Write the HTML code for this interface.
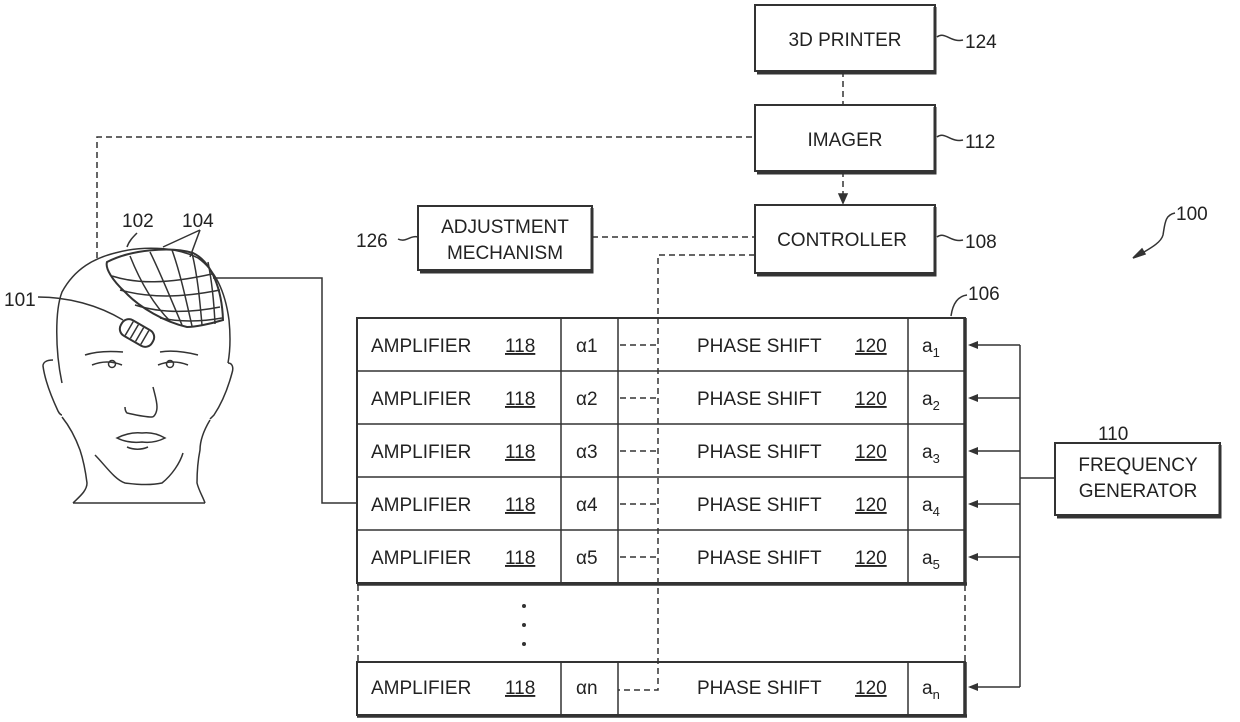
<!DOCTYPE html>
<html><head><meta charset="utf-8"><style>
body{margin:0;background:#fff;}
svg{display:block;}
text{font-family:"Liberation Sans",sans-serif;fill:#222;}
</style></head><body>
<svg width="1240" height="722" viewBox="0 0 1240 722" xmlns="http://www.w3.org/2000/svg">
<g fill="none" stroke="#333" stroke-width="1.5">
<rect x="755" y="5" width="180" height="66" stroke-width="2"/><path d="M935 7v66h-178" stroke-width="3"/>
<rect x="755" y="105" width="180" height="66" stroke-width="2"/><path d="M935 107v66h-178" stroke-width="3"/>
<rect x="755" y="205" width="180" height="68" stroke-width="2"/><path d="M935 207v68h-178" stroke-width="3"/>
<rect x="418" y="206" width="174" height="64" stroke-width="2"/><path d="M592 208v64h-172" stroke-width="3"/>
<rect x="1055" y="443" width="165" height="72" stroke-width="2"/><path d="M1220 445v72h-163" stroke-width="3"/>
<rect x="357" y="318" width="608" height="265" stroke-width="2"/>
<path d="M965 318v267M357 584h610" stroke-width="3.5"/>
<path d="M357 371h608M357 424h608M357 477h608M357 530h608"/>
<path d="M561 318v265M618 318v265M908 318v265"/>
<rect x="357" y="662" width="608" height="53" stroke-width="2"/>
<path d="M965 662v55M357 716h610" stroke-width="3.5"/>
<path d="M561 662v53M618 662v53M908 662v53"/>
<path d="M358 585v77M965 585v77" stroke-dasharray="6 4"/>
<g stroke-dasharray="6 4">
<path d="M843 71v34"/><path d="M843 171v26"/>
<path d="M97 258V137h658"/>
<path d="M592 237h163"/>
<path d="M755 255h-97v435h-40"/>
<path d="M620 345h38M620 398h38M620 451h38M620 504h38M620 557h38"/>
</g>
<path d="M839 194l4 9 4-9z" fill="#333"/>
<path d="M213 278h109v225h35"/>
<path d="M1020 345v342M1055 478h-35"/>
<path d="M1020 345h-50M1020 398h-50M1020 451h-50M1020 504h-50M1020 557h-50M1020 687h-50"/>
<g fill="#333" stroke="none">
<path d="M968 345l10-4v8z"/><path d="M968 398l10-4v8z"/><path d="M968 451l10-4v8z"/><path d="M968 504l10-4v8z"/><path d="M968 557l10-4v8z"/><path d="M968 687l10-4v8z"/>
</g>
<path d="M937 37c8-6 14 6 26 3"/><path d="M937 137c8-6 14 6 26 3"/><path d="M937 237c8-6 14 6 26 3"/>
<path d="M398 239c8 4 12-4 20-2"/>
<path d="M951 316c2-14 8-20 16-21"/>
<path d="M1175 213c-10 2-10 10-12 22-2 8-14 14-24 20"/><path d="M1133 258l9-9 3 5z" fill="#333"/>
<!-- head -->
<path d="M62 383C55 350 55 310 62 292 75 268 95 258 115 253 140 246 175 246 198 258 215 270 225 290 229 320 231 340 230 352 228 363"/>
<path d="M53 360c-6 0-10 2-10 6 2 15 8 30 15 45 2 4 4 4 4 4"/>
<path d="M62 417c8 10 14 22 18 33 4 12 6 25 7 33 0 8-8 14-14 20"/>
<path d="M228 363c4 0 6 4 4 10-4 15-10 30-18 42l-4 4"/>
<path d="M210 420c-6 10-10 20-10 30-2 10-3 22-3 33 2 8 6 14 8 20"/>
<path d="M73 503h132"/>
<path d="M95 455c10 10 20 25 30 28 15 2 28 2 37 0 10-8 18-20 21-30"/>
<path d="M85 355c12-4 26-4 38-3M160 352c12-2 26 0 38 3"/>
<path d="M92 365c10-4 20-4 30 0M158 365c10-4 20-4 30 0"/>
<circle cx="112" cy="364" r="3.5"/><circle cx="170" cy="364" r="3.5"/>
<path d="M153 387c2 8 4 14 4 20 0 6-3 10-5 10-8 0-16-2-25-4-2-2-2-5-2-6"/>
<path d="M117 438c8-4 16-6 25-5 8-1 16 1 23 5-8 4-16 5-23 4-9 1-17 0-25-4z"/>
<path d="M127 447c7 3 14 3 21 0"/>
<path d="M107 262C130 250 170 246 193 253 212 262 222 290 223 320 210 324 195 327 187 327 165 322 140 308 125 292 112 280 105 268 107 262z" stroke-width="2"/>
<path d="M112 276c25 8 55 8 100-2M120 290c30 8 60 8 100 0M135 305c25 8 55 8 85 2M160 318c20 4 40 4 62 0"/>
<path d="M130 256c8 20 20 45 40 65M150 252c10 20 20 45 32 73M172 250c8 22 14 50 20 76M192 253c6 25 8 50 10 72M208 262c4 20 6 40 7 62"/>
<path d="M127 247c2-6 6-10 10-14"/>
<path d="M200 230l-37 17M200 230l-10 27"/>
<path d="M38 297c30 0 60 8 85 23"/>
<g transform="rotate(30 137 333)">
<rect x="119" y="324" width="36" height="18" rx="8" stroke-width="2"/>
<path d="M128 325v16M134 325v16M140 325v16M146 325v16"/>
</g>
</g>
<g font-size="19">
<text x="845" y="46" text-anchor="middle">3D PRINTER</text>
<text x="845" y="146" text-anchor="middle">IMAGER</text>
<text x="842" y="246" text-anchor="middle">CONTROLLER</text>
<text x="505" y="233" text-anchor="middle">ADJUSTMENT</text>
<text x="505" y="259" text-anchor="middle">MECHANISM</text>
<text x="1138" y="471" text-anchor="middle">FREQUENCY</text>
<text x="1138" y="497" text-anchor="middle">GENERATOR</text>
<text x="965" y="48">124</text><text x="965" y="148">112</text><text x="965" y="248">108</text>
<text x="356" y="247">126</text><text x="1176" y="220">100</text><text x="1098" y="440">110</text>
<text x="968" y="300">106</text>
<text x="122" y="227">102</text><text x="182" y="227">104</text><text x="4" y="306">101</text>
</g>
<g font-size="19">
<g id="r">
<text x="371" y="352">AMPLIFIER</text><text x="505" y="352" text-decoration="underline">118</text>
<text x="697" y="352">PHASE SHIFT</text><text x="855" y="352" text-decoration="underline">120</text>
</g>
<use href="#r" y="53"/><use href="#r" y="106"/><use href="#r" y="159"/><use href="#r" y="212"/><use href="#r" y="342"/>
<text x="576" y="352">α1</text><text x="576" y="405">α2</text><text x="576" y="458">α3</text><text x="576" y="511">α4</text><text x="576" y="564">α5</text><text x="576" y="694">αn</text>
<text x="922" y="352">a<tspan font-size="13" dy="5">1</tspan></text>
<text x="922" y="405">a<tspan font-size="13" dy="5">2</tspan></text>
<text x="922" y="458">a<tspan font-size="13" dy="5">3</tspan></text>
<text x="922" y="511">a<tspan font-size="13" dy="5">4</tspan></text>
<text x="922" y="564">a<tspan font-size="13" dy="5">5</tspan></text>
<text x="922" y="694">a<tspan font-size="13" dy="5">n</tspan></text>
</g>
<g fill="#333"><circle cx="524" cy="606" r="2"/><circle cx="524" cy="625" r="2"/><circle cx="524" cy="644" r="2"/></g>
</svg>
</body></html>
